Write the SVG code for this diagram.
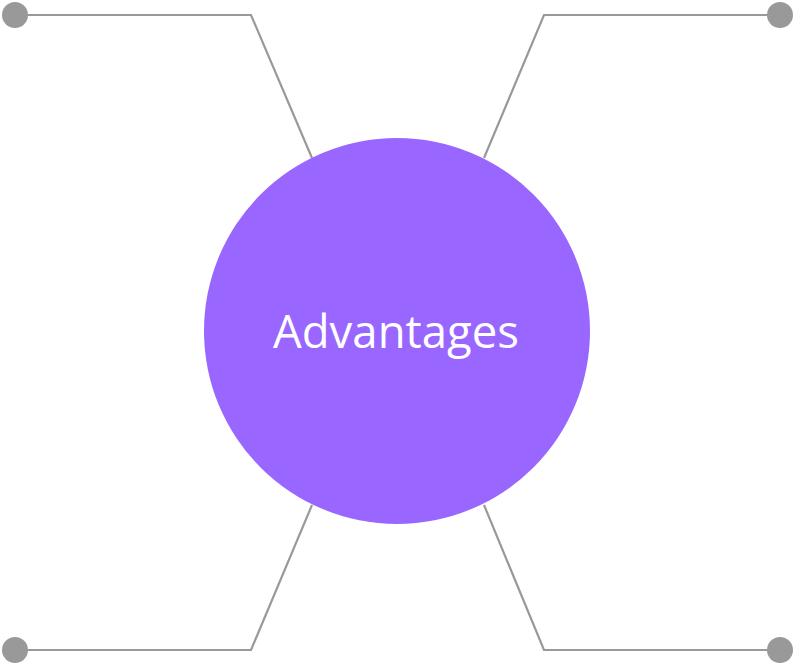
<svg xmlns="http://www.w3.org/2000/svg" width="794" height="663" viewBox="0 0 794 663">
<style>
.conn{fill:none;stroke:#999999;stroke-width:2.2}
.dot{fill:#999999}
.hub{fill:#9966FF}
.lbl{font-family:"Open Sans","Liberation Sans",sans-serif;font-size:46px;fill:#FFFFFF}
</style>
<rect width="794" height="663" fill="#FFFFFF"/>
<g id="connectors">
<polyline class="conn" points="15,15 251,15 312,158"/>
<polyline class="conn" points="780,15 544,15 484,158"/>
<polyline class="conn" points="15,650 251,650 312,505"/>
<polyline class="conn" points="780,650 544,650 484,505"/>
<circle class="dot" cx="15" cy="15" r="13"/>
<circle class="dot" cx="780" cy="15" r="13"/>
<circle class="dot" cx="15" cy="650" r="13"/>
<circle class="dot" cx="780" cy="650" r="13"/>
</g>
<g id="advantages">
<circle class="hub" cx="397" cy="331" r="193"/>
<text class="lbl" x="396" y="348" text-anchor="middle" textLength="246" lengthAdjust="spacingAndGlyphs">Advantages</text>
</g>
</svg>
